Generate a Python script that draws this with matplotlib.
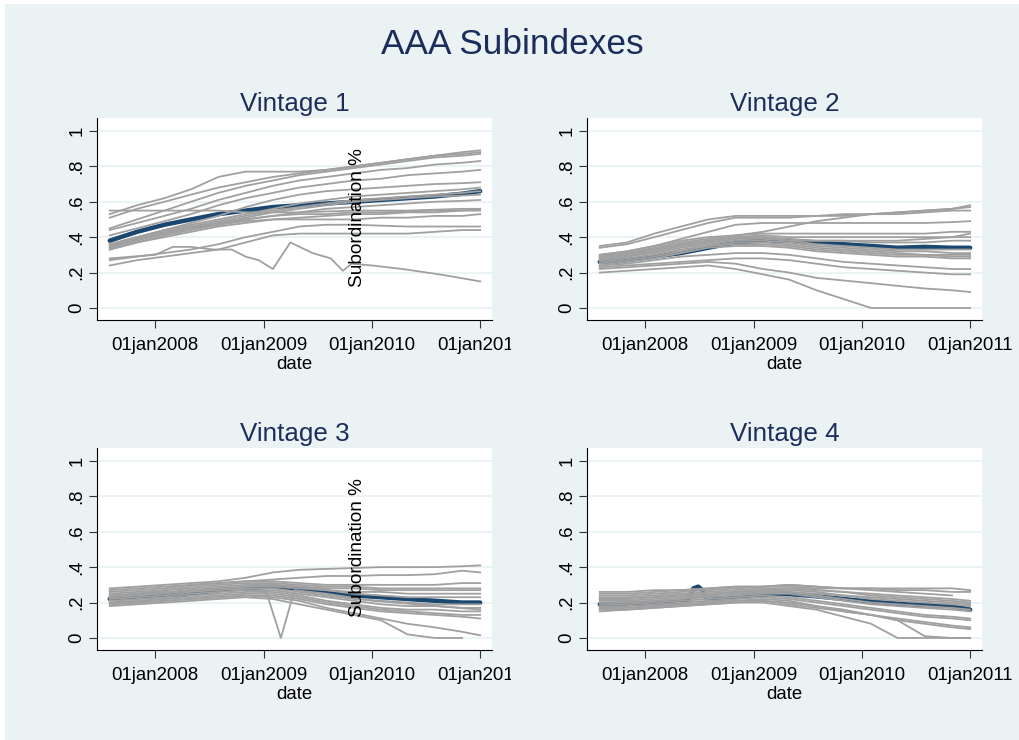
import numpy as np
import pandas as pd
import matplotlib
matplotlib.use('Agg')
import matplotlib.pyplot as plt
from matplotlib.patches import Rectangle
from matplotlib.transforms import Bbox, TransformedBbox

plt.rcParams['font.family'] = ['Liberation Sans', 'DejaVu Sans']

# quarterly observation dates shared by most series
dates = pd.to_datetime(['2007-08-01', '2007-11-01', '2008-02-01', '2008-05-01', '2008-08-01',
                        '2008-11-01', '2009-02-01', '2009-05-01', '2009-08-01', '2009-11-01',
                        '2010-02-01', '2010-05-01', '2010-08-01', '2010-11-01', '2011-01-01'])

# ---- Vintage 1 ----
v1_index = [0.38, 0.43, 0.47, 0.50, 0.53, 0.55, 0.57, 0.58, 0.59, 0.60, 0.61, 0.62, 0.63, 0.645, 0.66]
v1_series = [
    [0.53, 0.58, 0.62, 0.67, 0.74, 0.77, 0.77, 0.77, 0.78, 0.80, 0.82, 0.84, 0.86, 0.88, 0.89],
    [0.51, 0.56, 0.60, 0.64, 0.68, 0.71, 0.74, 0.76, 0.78, 0.80, 0.82, 0.84, 0.86, 0.87, 0.88],
    [0.45, 0.50, 0.55, 0.60, 0.65, 0.69, 0.72, 0.75, 0.77, 0.79, 0.81, 0.83, 0.85, 0.86, 0.87],
    [0.44, 0.48, 0.52, 0.56, 0.61, 0.65, 0.69, 0.72, 0.74, 0.76, 0.78, 0.79, 0.81, 0.82, 0.83],
    [0.41, 0.45, 0.49, 0.53, 0.58, 0.62, 0.65, 0.68, 0.70, 0.72, 0.73, 0.75, 0.76, 0.77, 0.78],
    [0.36, 0.40, 0.44, 0.48, 0.52, 0.57, 0.61, 0.64, 0.66, 0.67, 0.68, 0.69, 0.70, 0.705, 0.71],
    [0.35, 0.40, 0.44, 0.47, 0.50, 0.53, 0.56, 0.59, 0.61, 0.63, 0.64, 0.65, 0.66, 0.67, 0.68],
    [0.34, 0.39, 0.43, 0.46, 0.49, 0.52, 0.55, 0.57, 0.59, 0.61, 0.62, 0.63, 0.64, 0.65, 0.66],
    [0.34, 0.38, 0.42, 0.45, 0.48, 0.51, 0.54, 0.56, 0.58, 0.60, 0.61, 0.62, 0.63, 0.635, 0.64],
    [0.33, 0.37, 0.41, 0.44, 0.47, 0.50, 0.52, 0.54, 0.56, 0.57, 0.58, 0.59, 0.60, 0.605, 0.61],
    [0.55, 0.55, 0.55, 0.55, 0.55, 0.54, 0.54, 0.54, 0.545, 0.55, 0.55, 0.55, 0.555, 0.56, 0.56],
    [0.36, 0.40, 0.43, 0.46, 0.48, 0.50, 0.52, 0.53, 0.53, 0.54, 0.54, 0.545, 0.55, 0.55, 0.55],
    [0.33, 0.37, 0.40, 0.43, 0.46, 0.48, 0.50, 0.51, 0.52, 0.53, 0.53, 0.54, 0.54, 0.55, 0.56],
    [0.35, 0.39, 0.42, 0.45, 0.47, 0.49, 0.50, 0.50, 0.50, 0.50, 0.51, 0.51, 0.52, 0.52, 0.53],
    [0.27, 0.29, 0.31, 0.33, 0.36, 0.40, 0.43, 0.46, 0.47, 0.47, 0.465, 0.46, 0.46, 0.46, 0.46],
    [0.24, 0.27, 0.29, 0.31, 0.33, 0.37, 0.41, 0.42, 0.42, 0.42, 0.42, 0.42, 0.43, 0.44, 0.44],
]
v1_spike_dates = pd.to_datetime(['2007-08-01', '2008-01-01', '2008-03-01', '2008-05-01', '2008-07-15',
                                 '2008-09-15', '2008-11-01', '2008-12-15', '2009-02-01', '2009-04-01',
                                 '2009-06-15', '2009-08-15', '2009-09-25', '2009-10-25', '2010-01-01',
                                 '2010-04-15', '2010-08-15', '2010-10-25', '2011-01-01'])
v1_spike = [0.28, 0.30, 0.345, 0.345, 0.33, 0.33, 0.29, 0.27, 0.22, 0.37,
            0.31, 0.28, 0.21, 0.25, 0.24, 0.22, 0.19, 0.17, 0.15]

# ---- Vintage 2 ----
v2_index = [0.26, 0.27, 0.29, 0.31, 0.34, 0.37, 0.38, 0.38, 0.37, 0.36, 0.35, 0.34, 0.345, 0.34, 0.34]
v2_series = [
    [0.35, 0.37, 0.42, 0.46, 0.50, 0.52, 0.52, 0.52, 0.52, 0.53, 0.53, 0.54, 0.55, 0.56, 0.57],
    [0.34, 0.36, 0.40, 0.44, 0.48, 0.51, 0.51, 0.51, 0.52, 0.52, 0.53, 0.53, 0.54, 0.55, 0.55],
    [0.30, 0.32, 0.35, 0.38, 0.40, 0.41, 0.43, 0.46, 0.49, 0.51, 0.53, 0.54, 0.55, 0.56, 0.58],
    [0.30, 0.32, 0.35, 0.39, 0.43, 0.47, 0.48, 0.48, 0.48, 0.48, 0.48, 0.48, 0.48, 0.485, 0.49],
    [0.29, 0.31, 0.34, 0.37, 0.39, 0.41, 0.42, 0.42, 0.42, 0.42, 0.42, 0.42, 0.42, 0.43, 0.43],
    [0.28, 0.30, 0.33, 0.36, 0.38, 0.40, 0.40, 0.39, 0.38, 0.38, 0.38, 0.38, 0.39, 0.40, 0.42],
    [0.29, 0.31, 0.33, 0.36, 0.38, 0.40, 0.41, 0.40, 0.40, 0.40, 0.40, 0.40, 0.40, 0.40, 0.40],
    [0.27, 0.29, 0.32, 0.35, 0.37, 0.39, 0.39, 0.38, 0.38, 0.38, 0.37, 0.37, 0.37, 0.38, 0.38],
    [0.28, 0.30, 0.32, 0.35, 0.37, 0.39, 0.40, 0.38, 0.36, 0.35, 0.34, 0.33, 0.33, 0.33, 0.33],
    [0.27, 0.29, 0.31, 0.34, 0.36, 0.38, 0.38, 0.37, 0.35, 0.34, 0.33, 0.32, 0.32, 0.31, 0.31],
    [0.26, 0.28, 0.30, 0.33, 0.35, 0.37, 0.37, 0.36, 0.34, 0.33, 0.32, 0.31, 0.30, 0.30, 0.30],
    [0.25, 0.27, 0.29, 0.32, 0.35, 0.36, 0.36, 0.35, 0.33, 0.32, 0.31, 0.30, 0.30, 0.29, 0.29],
    [0.24, 0.26, 0.28, 0.31, 0.34, 0.35, 0.35, 0.34, 0.32, 0.31, 0.30, 0.29, 0.29, 0.28, 0.28],
    [0.24, 0.25, 0.27, 0.29, 0.30, 0.31, 0.31, 0.30, 0.28, 0.26, 0.25, 0.24, 0.23, 0.22, 0.22],
    [0.23, 0.24, 0.25, 0.26, 0.27, 0.28, 0.28, 0.27, 0.25, 0.23, 0.22, 0.21, 0.20, 0.19, 0.19],
    [0.22, 0.23, 0.24, 0.25, 0.26, 0.25, 0.22, 0.20, 0.17, 0.155, 0.14, 0.125, 0.11, 0.10, 0.09],
    [0.20, 0.21, 0.22, 0.23, 0.24, 0.22, 0.19, 0.16, 0.10, 0.05, 0.0, 0.0, 0.0, 0.0, 0.0],
]

# ---- Vintage 3 ----
v3_index = [0.22, 0.23, 0.24, 0.25, 0.27, 0.28, 0.29, 0.28, 0.26, 0.24, 0.23, 0.22, 0.21, 0.20, 0.20]
v3_series = [
    [0.28, 0.29, 0.30, 0.31, 0.32, 0.34, 0.37, 0.385, 0.39, 0.395, 0.40, 0.40, 0.40, 0.405, 0.41],
    [0.27, 0.28, 0.29, 0.30, 0.31, 0.32, 0.33, 0.34, 0.35, 0.35, 0.355, 0.355, 0.36, 0.38, 0.37],
    [0.26, 0.27, 0.28, 0.30, 0.31, 0.32, 0.32, 0.31, 0.30, 0.30, 0.30, 0.30, 0.30, 0.31, 0.31],
    [0.25, 0.26, 0.27, 0.29, 0.30, 0.31, 0.31, 0.30, 0.29, 0.29, 0.28, 0.28, 0.28, 0.28, 0.28],
    [0.24, 0.25, 0.27, 0.28, 0.29, 0.30, 0.30, 0.29, 0.28, 0.28, 0.27, 0.27, 0.27, 0.27, 0.27],
    [0.24, 0.25, 0.26, 0.27, 0.28, 0.29, 0.29, 0.28, 0.27, 0.26, 0.26, 0.25, 0.25, 0.25, 0.25],
    [0.23, 0.24, 0.25, 0.27, 0.28, 0.29, 0.30, 0.29, 0.27, 0.25, 0.24, 0.23, 0.23, 0.23, 0.23],
    [0.22, 0.23, 0.24, 0.26, 0.27, 0.28, 0.28, 0.26, 0.24, 0.22, 0.21, 0.20, 0.19, 0.19, 0.19],
    [0.21, 0.22, 0.23, 0.25, 0.26, 0.27, 0.27, 0.25, 0.23, 0.21, 0.19, 0.18, 0.18, 0.17, 0.17],
    [0.20, 0.21, 0.22, 0.24, 0.25, 0.26, 0.26, 0.24, 0.21, 0.19, 0.17, 0.16, 0.16, 0.15, 0.15],
    [0.20, 0.21, 0.22, 0.23, 0.24, 0.25, 0.25, 0.23, 0.20, 0.18, 0.16, 0.15, 0.14, 0.13, 0.13],
    [0.19, 0.20, 0.21, 0.22, 0.23, 0.24, 0.24, 0.22, 0.19, 0.17, 0.15, 0.14, 0.13, 0.12, 0.11],
    [0.19, 0.20, 0.21, 0.22, 0.23, 0.24, 0.23, 0.21, 0.17, 0.14, 0.11, 0.08, 0.06, 0.035, 0.015],
    [0.18, 0.19, 0.20, 0.21, 0.22, 0.23, 0.22, 0.19, 0.16, 0.13, 0.10, 0.02, 0.0, 0.0, np.nan],
]
v3_spike_dates = pd.to_datetime(['2007-08-01', '2008-01-01', '2008-08-01', '2009-01-10', '2009-02-28',
                                 '2009-04-15', '2009-08-01', '2010-01-01', '2010-06-01', '2011-01-01'])
v3_spike = [0.23, 0.25, 0.28, 0.26, 0.0, 0.27, 0.25, 0.21, 0.19, 0.16]

# ---- Vintage 4 ----
v4_index_dates = pd.to_datetime(['2007-08-01', '2008-01-01', '2008-05-25', '2008-06-12', '2008-06-28',
                                 '2008-07-12', '2008-07-25', '2008-10-01', '2009-01-01', '2009-04-15',
                                 '2009-08-01', '2010-01-01', '2010-06-01', '2010-11-01', '2011-01-01'])
v4_index = [0.19, 0.195, 0.21, 0.28, 0.29, 0.27, 0.22, 0.225, 0.24, 0.25, 0.235, 0.21, 0.19, 0.18, 0.16]
v4_series = [
    [0.26, 0.26, 0.27, 0.27, 0.28, 0.29, 0.29, 0.29, 0.28, 0.28, 0.28, 0.28, 0.28, 0.28, 0.27],
    [0.25, 0.25, 0.26, 0.27, 0.28, 0.29, 0.29, 0.30, 0.29, 0.28, 0.28, 0.27, 0.27, 0.26, 0.26],
    [0.24, 0.24, 0.25, 0.26, 0.27, 0.28, 0.29, 0.30, 0.29, 0.28, 0.27, 0.26, 0.25, 0.24, np.nan],
    [0.22, 0.22, 0.23, 0.24, 0.25, 0.26, 0.27, 0.28, 0.27, 0.26, 0.25, 0.24, 0.23, 0.22, 0.21],
    [0.23, 0.23, 0.24, 0.25, 0.26, 0.27, 0.28, 0.28, 0.27, 0.26, 0.24, 0.23, 0.22, 0.21, 0.20],
    [0.20, 0.20, 0.21, 0.22, 0.24, 0.25, 0.26, 0.26, 0.25, 0.24, 0.23, 0.22, 0.21, 0.20, 0.19],
    [0.22, 0.22, 0.23, 0.24, 0.25, 0.26, 0.27, 0.27, 0.26, 0.24, 0.22, 0.21, 0.20, 0.19, 0.18],
    [0.21, 0.21, 0.22, 0.23, 0.24, 0.25, 0.26, 0.26, 0.24, 0.22, 0.20, 0.19, 0.18, 0.17, 0.16],
    [0.20, 0.20, 0.21, 0.22, 0.23, 0.24, 0.25, 0.25, 0.23, 0.21, 0.19, 0.18, 0.17, 0.16, 0.15],
    [0.19, 0.19, 0.20, 0.21, 0.22, 0.23, 0.24, 0.23, 0.21, 0.19, 0.17, 0.15, 0.13, 0.12, 0.11],
    [0.18, 0.18, 0.19, 0.20, 0.21, 0.22, 0.23, 0.22, 0.20, 0.18, 0.16, 0.14, 0.12, 0.11, 0.10],
    [0.17, 0.17, 0.18, 0.19, 0.20, 0.21, 0.22, 0.21, 0.18, 0.15, 0.13, 0.11, 0.09, 0.07, 0.06],
    [0.17, 0.17, 0.18, 0.19, 0.20, 0.21, 0.21, 0.19, 0.17, 0.15, 0.13, 0.10, 0.08, 0.06, 0.05],
    [0.16, 0.16, 0.17, 0.18, 0.19, 0.20, 0.20, 0.18, 0.16, 0.12, 0.08, 0.0, 0.0, 0.0, 0.0],
    [0.15, 0.16, 0.17, 0.18, 0.19, 0.20, 0.21, 0.20, 0.18, 0.16, 0.13, 0.10, 0.01, 0.0, 0.0],
]

panel_titles = ['Vintage 1', 'Vintage 2', 'Vintage 3', 'Vintage 4']
xtick_dates = pd.to_datetime(['2008-01-01', '2009-01-01', '2010-01-01', '2011-01-01'])
xtick_labels = ['01jan2008', '01jan2009', '01jan2010', '01jan2011']
ytick_vals = [0, 0.2, 0.4, 0.6, 0.8, 1]
ytick_labels = ['0', '.2', '.4', '.6', '.8', '1']

BG = '#EAF2F3'
NAVY = '#1A476F'
GREY = '#A0A0A0'
TITLE_C = '#1C2D5B'

W, H = 1020, 740
fig = plt.figure(figsize=(W / 100, H / 100), dpi=100, facecolor='white')
fig.add_artist(Rectangle((5 / W, 0), 1 - 5 / W, 1 - 4 / H, transform=fig.transFigure,
                         facecolor=BG, edgecolor='none', zorder=-5))

# pixel boxes (left, top, right, bottom)
boxes = [(97, 118, 492, 320), (587, 118, 982, 320), (97, 448, 492, 650), (587, 448, 982, 650)]

panels = [
    (dates, v1_index, v1_series, [(v1_spike_dates, v1_spike)]),
    (dates, v2_index, v2_series, []),
    (dates, v3_index, v3_series, [(v3_spike_dates, v3_spike)]),
    (v4_index_dates, v4_index, v4_series, []),
]

for i, (idx_dates, idx, series, extra) in enumerate(panels):
    l, t, r, b = boxes[i]
    ax = fig.add_axes([l / W, 1 - b / H, (r - l) / W, (b - t) / H])
    ax.set_facecolor('white')
    ax.plot(idx_dates, idx, color=NAVY, lw=3.2, zorder=2, solid_capstyle='round')
    for s in series:
        ax.plot(dates, s, color=GREY, lw=1.3, zorder=3)
    for d, s in extra:
        ax.plot(d, s, color=GREY, lw=1.3, zorder=3)

    ax.set_xlim(pd.Timestamp('2007-06-19'), pd.Timestamp('2011-02-10'))
    ax.set_ylim(-0.068, 1.073)
    ax.set_yticks(ytick_vals)
    ax.set_yticklabels(ytick_labels)
    ax.set_xticks(xtick_dates)
    ax.set_xticklabels(xtick_labels)
    ax.yaxis.grid(True, color=BG, lw=1.3)
    ax.set_axisbelow(True)
    for sp in ['top', 'right']:
        ax.spines[sp].set_visible(False)
    for sp in ['left', 'bottom']:
        ax.spines[sp].set_color('black')
        ax.spines[sp].set_linewidth(0.8)
    ax.tick_params(axis='both', length=5.5, width=0.8, color='#333333', labelsize=13.4)
    ax.tick_params(axis='x', pad=7)
    ax.tick_params(axis='y', pad=3)
    for lab in ax.get_yticklabels():
        lab.set_rotation(90)
        lab.set_va('center')
    ax.set_xlabel('date', fontsize=13.4, labelpad=1.5)
    ax.set_title(panel_titles[i], fontsize=18.7, color=TITLE_C, pad=5)

    if i % 2 == 0:
        ax.text(pd.Timestamp('2009-11-15'), 0.51, 'Subordination %', rotation=90,
                ha='center', va='center', fontsize=13.7, zorder=5)
        last = ax.get_xticklabels()[-1]
        last.set_clip_box(TransformedBbox(Bbox([[0, 0], [511 / W, 1]]), fig.transFigure))
        last.set_clip_on(True)

fig.text(512 / W, 1 - 54 / H, 'AAA Subindexes', ha='center', va='baseline',
         fontsize=25.4, color=TITLE_C)

fig.savefig('out.png', dpi=100, facecolor=fig.get_facecolor())
